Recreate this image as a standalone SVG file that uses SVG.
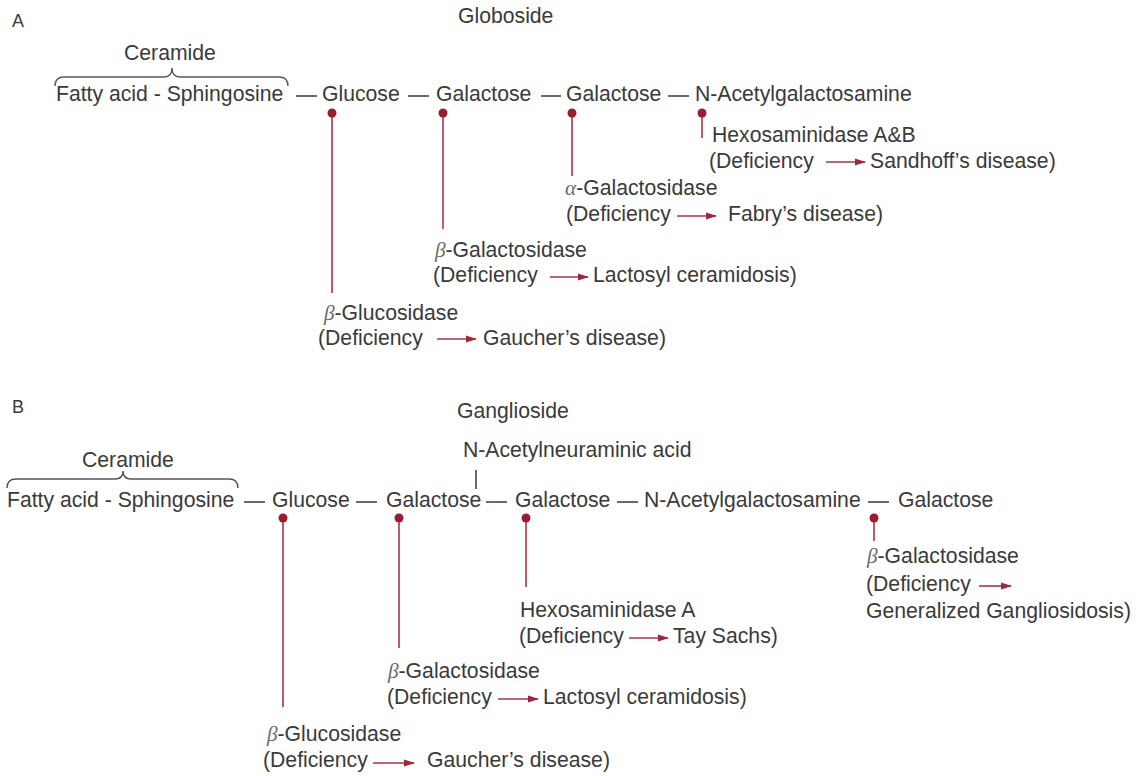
<svg xmlns="http://www.w3.org/2000/svg" width="1138" height="776" viewBox="0 0 1138 776">
<defs>
<style>
text{font-family:"Liberation Sans",Arial,sans-serif;font-size:21.2px;fill:#3a3a3a}
.lbl{font-size:18px}
.gr{font-family:"Liberation Serif","Times New Roman",serif;font-style:italic;fill:#6a6a6a}
.bond{stroke:#444;stroke-width:1.6}
.enz{stroke:#a8354a;stroke-width:1.6}
.arr{stroke:#a8354a;stroke-width:1.6;marker-end:url(#ah)}
.dot{fill:#9b1b32}
.brace{fill:none;stroke:#555;stroke-width:1.4}
</style>
<marker id="ah" markerUnits="userSpaceOnUse" markerWidth="11" markerHeight="8" refX="10" refY="4" orient="auto">
<path d="M0,0.5 L11,4 L0,7.5 z" fill="#a0263c"/>
</marker>
</defs>
<rect width="1138" height="776" fill="#ffffff"/>

<!-- Panel A -->
<g id="labelA"><text class="lbl" x="12" y="27">A</text></g>
<g id="globoside"><text x="458" y="23">Globoside</text></g>
<g id="ceramideA"><text x="124" y="60">Ceramide</text><path class="brace" d="M55,86 Q55,77 64,77 L164,77 Q172,77 172,68 Q172,77 180,77 L279,77 Q288,77 288,86"/></g>
<g id="A-fatty"><text x="56" y="101">Fatty acid - Sphingosine</text></g>
<g id="A-glucose"><text x="322" y="101">Glucose</text></g>
<g id="A-galactose1"><text x="436" y="101">Galactose</text></g>
<g id="A-galactose2"><text x="566" y="101">Galactose</text></g>
<g id="A-nacgal"><text x="695" y="101">N-Acetylgalactosamine</text></g>

<g id="A-hexAB"><text x="712" y="142">Hexosaminidase A&amp;B</text><text x="709" y="168">(Deficiency</text><text x="870" y="168">Sandhoff’s disease)</text></g>
<g id="A-agal"><text x="565" y="195"><tspan class="gr">α</tspan>-Galactosidase</text><text x="566" y="221">(Deficiency</text><text x="728" y="221">Fabry’s disease)</text></g>
<g id="A-bgal"><text x="435" y="257"><tspan class="gr">β</tspan>-Galactosidase</text><text x="433" y="282">(Deficiency</text><text x="593" y="282">Lactosyl ceramidosis)</text></g>
<g id="A-bglu"><text x="324" y="320"><tspan class="gr">β</tspan>-Glucosidase</text><text x="318" y="345">(Deficiency</text><text x="483" y="345">Gaucher’s disease)</text></g>

<!-- Panel B -->
<g id="labelB"><text class="lbl" x="12" y="413">B</text></g>
<g id="ganglioside"><text x="457" y="418">Ganglioside</text></g>
<g id="B-neu"><text x="463" y="457">N-Acetylneuraminic acid</text></g>
<g id="ceramideB"><text x="82" y="467">Ceramide</text><path class="brace" d="M7,488 Q7,479 16,479 L115,479 Q123,479 123,471 Q123,479 131,479 L229,479 Q238,479 238,488"/></g>
<g id="B-fatty"><text x="7" y="507">Fatty acid - Sphingosine</text></g>
<g id="B-glucose"><text x="272" y="507">Glucose</text></g>
<g id="B-galactose1"><text x="386" y="507">Galactose</text></g>
<g id="B-galactose2"><text x="515" y="507">Galactose</text></g>
<g id="B-nacgal"><text x="644" y="507">N-Acetylgalactosamine</text></g>
<g id="B-galactose3"><text x="898" y="507">Galactose</text></g>

<g id="B-bgal2"><text x="867" y="563"><tspan class="gr">β</tspan>-Galactosidase</text><text x="866" y="591">(Deficiency</text><text x="866" y="618">Generalized Gangliosidosis)</text></g>
<g id="B-hexA"><text x="520" y="617">Hexosaminidase A</text><text x="519" y="643">(Deficiency</text><text x="673" y="643">Tay Sachs)</text></g>
<g id="B-bgal"><text x="388" y="678"><tspan class="gr">β</tspan>-Galactosidase</text><text x="387" y="704">(Deficiency</text><text x="543" y="704">Lactosyl ceramidosis)</text></g>
<g id="B-bglu"><text x="267" y="741"><tspan class="gr">β</tspan>-Glucosidase</text><text x="263" y="767">(Deficiency</text><text x="427" y="767">Gaucher’s disease)</text></g>

<g id="connectors">
<!-- A bonds -->
<line class="bond" x1="296" y1="96" x2="317" y2="96"/>
<line class="bond" x1="408" y1="96" x2="429" y2="96"/>
<line class="bond" x1="541" y1="96" x2="561" y2="96"/>
<line class="bond" x1="668" y1="96" x2="689" y2="96"/>
<!-- A enzyme sites -->
<line class="enz" x1="332" y1="113" x2="332" y2="293"/>
<line class="enz" x1="443" y1="113" x2="443" y2="229"/>
<line class="enz" x1="572" y1="113" x2="572" y2="176"/>
<line class="enz" x1="702" y1="113" x2="702" y2="138"/>
<circle class="dot" cx="332" cy="113" r="4.5"/>
<circle class="dot" cx="443" cy="113" r="4.5"/>
<circle class="dot" cx="572" cy="113" r="4.5"/>
<circle class="dot" cx="702" cy="113" r="4.5"/>
<!-- A arrows -->
<line class="arr" x1="826" y1="162" x2="865" y2="162"/>
<line class="arr" x1="677" y1="216" x2="716" y2="216"/>
<line class="arr" x1="550" y1="277" x2="588" y2="277"/>
<line class="arr" x1="437" y1="339" x2="476" y2="339"/>
<!-- B bonds -->
<line class="bond" x1="476" y1="470" x2="476" y2="489"/>
<line class="bond" x1="244" y1="502" x2="265" y2="502"/>
<line class="bond" x1="356" y1="502" x2="377" y2="502"/>
<line class="bond" x1="486" y1="502" x2="507" y2="502"/>
<line class="bond" x1="617" y1="502" x2="638" y2="502"/>
<line class="bond" x1="868" y1="502" x2="889" y2="502"/>
<!-- B enzyme sites -->
<line class="enz" x1="283" y1="518" x2="283" y2="707"/>
<line class="enz" x1="399" y1="518" x2="399" y2="648"/>
<line class="enz" x1="526" y1="518" x2="526" y2="587"/>
<line class="enz" x1="874" y1="518" x2="874" y2="541"/>
<circle class="dot" cx="283" cy="518" r="4.5"/>
<circle class="dot" cx="399" cy="518" r="4.5"/>
<circle class="dot" cx="526" cy="518" r="4.5"/>
<circle class="dot" cx="874" cy="518" r="4.5"/>
<!-- B arrows -->
<line class="arr" x1="979" y1="586" x2="1011" y2="586"/>
<line class="arr" x1="629" y1="638" x2="668" y2="638"/>
<line class="arr" x1="498" y1="699" x2="538" y2="699"/>
<line class="arr" x1="373" y1="763" x2="414" y2="763"/>
</g>
</svg>
